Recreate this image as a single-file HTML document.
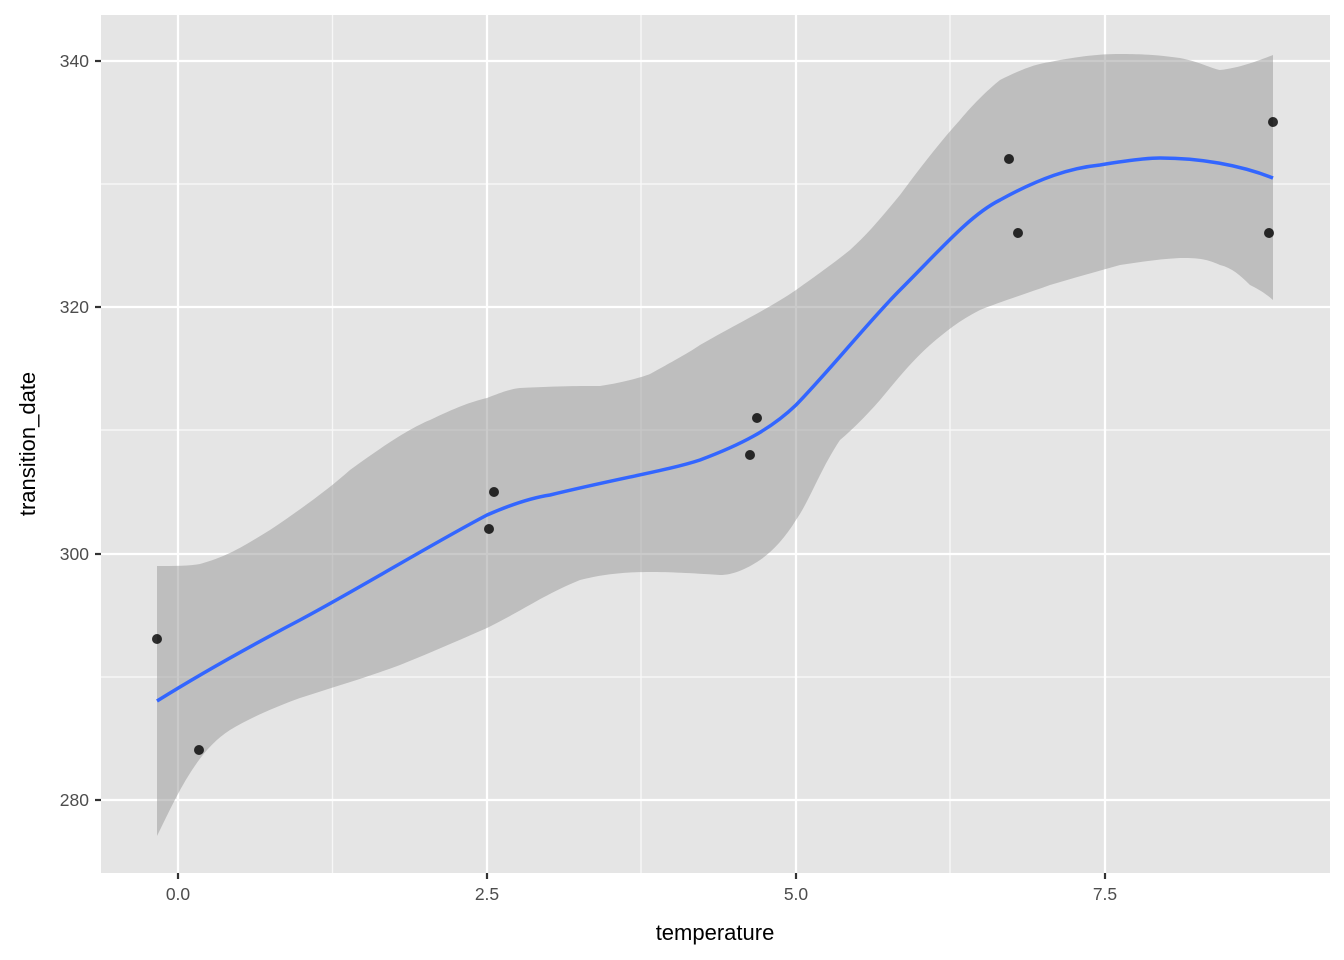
<!DOCTYPE html>
<html><head><meta charset="utf-8"><style>
html,body{margin:0;padding:0;background:#fff;}
svg{display:block;font-family:"Liberation Sans",sans-serif;}
</style></head><body>
<svg width="1344" height="960" viewBox="0 0 1344 960" xmlns="http://www.w3.org/2000/svg">
<rect x="101" y="15" width="1229" height="858" fill="#e5e5e5"/>
<g stroke="#f7f7f7" stroke-width="1.4">
<line x1="332.5" y1="15" x2="332.5" y2="873"/><line x1="641" y1="15" x2="641" y2="873"/><line x1="950" y1="15" x2="950" y2="873"/>
<line x1="101" y1="184" x2="1330" y2="184"/><line x1="101" y1="430" x2="1330" y2="430"/><line x1="101" y1="677" x2="1330" y2="677"/>
</g>
<g stroke="#fff" stroke-width="2.2">
<line x1="178" y1="15" x2="178" y2="873"/><line x1="487" y1="15" x2="487" y2="873"/><line x1="796" y1="15" x2="796" y2="873"/><line x1="1105" y1="15" x2="1105" y2="873"/>
<line x1="101" y1="61" x2="1330" y2="61"/><line x1="101" y1="307" x2="1330" y2="307"/><line x1="101" y1="554" x2="1330" y2="554"/><line x1="101" y1="800" x2="1330" y2="800"/>
</g>
<path d="M157,566 C175,566 190,566 200,564 C230,556 250,542 270,530 C300,510 330,488 350,470 C380,448 410,428 430,420 C455,408 470,402 487,398 C500,393 510,389 520,388 C560,386 580,386 600,386 C620,383 640,378 650,374 C670,363 690,352 700,345 C740,322 770,308 796,290 C820,273 835,262 850,250 C870,232 885,213 900,195 C920,168 940,142 960,120 C975,102 990,88 1000,80 C1020,70 1035,64 1050,62 C1080,56 1100,54 1120,54 C1150,54 1165,56 1180,58 C1200,62 1210,68 1220,70 C1240,68 1260,60 1273,55 L1273,300 C1265,293 1258,289 1250,285 C1240,275 1232,268 1220,265 C1205,258 1195,258 1180,258 C1160,259 1140,262 1120,265 C1095,272 1070,279 1050,285 C1025,294 1000,302 980,310 C960,320 945,332 930,345 C910,363 895,382 880,400 C865,417 852,430 840,440 C820,470 810,500 796,520 C785,538 772,552 760,560 C745,570 732,575 720,575 C690,573 670,572 650,572 C620,572 600,575 580,580 C545,594 520,612 487,628 C455,642 425,655 400,665 C365,678 330,688 300,698 C275,707 250,718 230,730 C195,752 175,800 157,836 Z" fill="#999" fill-opacity="0.52"/>
<path d="M157,701 C210,668 260,641 300,620 C360,588 430,545 487,515 C510,505 530,498 550,495 C620,478 670,470 700,460 C740,445 770,430 796,405 C830,370 870,320 900,290 C940,250 970,215 1000,200 C1040,178 1070,168 1100,165 C1130,160 1150,158 1160,158 C1200,158 1240,165 1273,178" fill="none" stroke="#3366ff" stroke-width="3.5"/>
<g fill="#000" fill-opacity="0.8">
<circle cx="157" cy="639" r="5"/><circle cx="199" cy="750" r="5"/><circle cx="489" cy="529" r="5"/><circle cx="494" cy="492" r="5"/><circle cx="750" cy="455" r="5"/><circle cx="757" cy="418" r="5"/><circle cx="1009" cy="159" r="5"/><circle cx="1018" cy="233" r="5"/><circle cx="1269" cy="233" r="5"/><circle cx="1273" cy="122" r="5"/>
</g>
<g stroke="#333" stroke-width="2.2">
<line x1="178" y1="873" x2="178" y2="879"/><line x1="487" y1="873" x2="487" y2="879"/><line x1="796" y1="873" x2="796" y2="879"/><line x1="1105" y1="873" x2="1105" y2="879"/>
<line x1="95" y1="61" x2="101" y2="61"/><line x1="95" y1="307" x2="101" y2="307"/><line x1="95" y1="554" x2="101" y2="554"/><line x1="95" y1="800" x2="101" y2="800"/>
</g>
<g fill="#4d4d4d" font-size="17.5">
<text x="178" y="900" text-anchor="middle">0.0</text><text x="487" y="900" text-anchor="middle">2.5</text><text x="796" y="900" text-anchor="middle">5.0</text><text x="1105" y="900" text-anchor="middle">7.5</text>
<text x="89" y="67" text-anchor="end">340</text><text x="89" y="313" text-anchor="end">320</text><text x="89" y="560" text-anchor="end">300</text><text x="89" y="806" text-anchor="end">280</text>
</g>
<text x="715" y="940" text-anchor="middle" font-size="22" fill="#000">temperature</text>
<text transform="translate(35,444) rotate(-90)" text-anchor="middle" font-size="22" fill="#000">transition_date</text>
</svg>
</body></html>
